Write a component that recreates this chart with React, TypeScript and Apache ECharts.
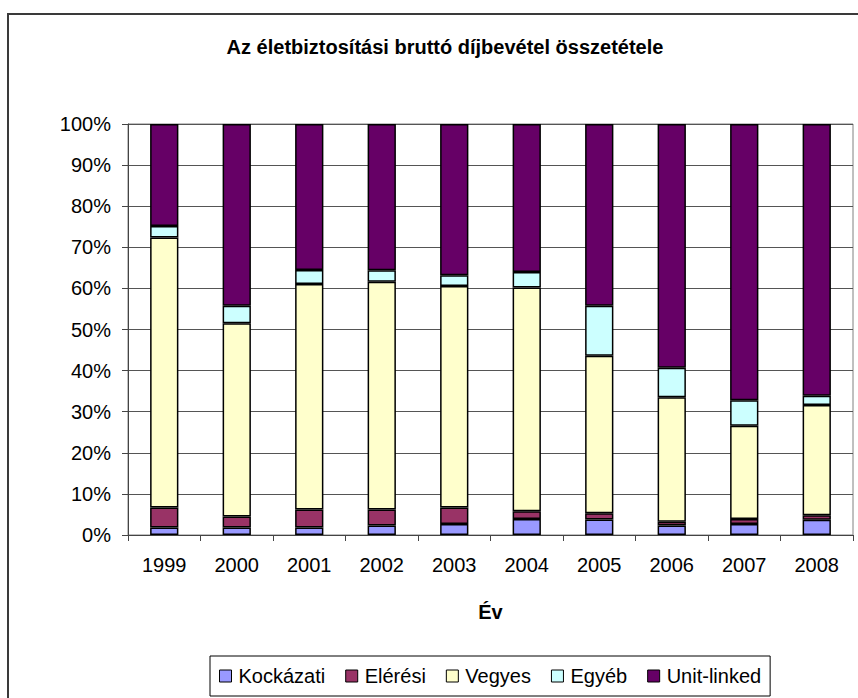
import React, { useEffect, useRef } from "react";
import * as echarts from "echarts";

// Years on the category axis
const years = ["1999", "2000", "2001", "2002", "2003", "2004", "2005", "2006", "2007", "2008"];

// Share of gross life-insurance premium income by product type (%)
const kockazati = [1.8, 1.8, 1.8, 2.3, 2.7, 3.9, 3.8, 2.3, 2.7, 3.7];
const eleresi = [4.9, 2.7, 4.4, 3.9, 4.0, 1.9, 1.5, 0.9, 1.2, 1.1];
const vegyes = [65.7, 47.0, 54.9, 55.4, 53.9, 54.4, 38.3, 30.3, 22.7, 26.8];
const egyeb = [2.8, 4.3, 3.4, 2.8, 2.6, 3.8, 12.2, 7.2, 6.2, 2.3];
const unitLinked = [24.8, 44.2, 35.5, 35.6, 36.8, 36.0, 44.2, 59.3, 67.2, 66.1];

const seriesNames = ["Kockázati", "Elérési", "Vegyes", "Egyéb", "Unit-linked"];
const seriesData = [kockazati, eleresi, vegyes, egyeb, unitLinked];
const seriesColors = ["#9999FF", "#993366", "#FFFFCC", "#CCFFFF", "#660066"];

const titleText = "Az életbiztosítási bruttó díjbevétel összetétele";
const xAxisName = "Év";

const FONT = "'Liberation Sans', Arial, sans-serif";

export default function App() {
  const ref = useRef<HTMLDivElement>(null);

  useEffect(() => {
    if (!ref.current) return;
    const chart = echarts.init(ref.current, undefined, { renderer: "svg" });

    chart.setOption({
      animation: false,
      backgroundColor: "#ffffff",
      textStyle: { fontFamily: FONT, color: "#000" },
      graphic: [
        {
          type: "rect",
          shape: { x: 8, y: 14, width: 900, height: 800 },
          style: { fill: "none", stroke: "#3a3a3a", lineWidth: 2 },
          silent: true,
        },
        {
          type: "text",
          x: 445,
          y: 47,
          style: {
            text: titleText,
            fontFamily: FONT,
            fontSize: 20,
            fontWeight: "bold",
            fill: "#000",
            align: "center",
            verticalAlign: "middle",
          },
        },
      ],
      legend: {
        data: seriesNames,
        left: 210,
        top: 656,
        orient: "horizontal",
        padding: [10, 9, 10, 9],
        itemGap: 20,
        itemWidth: 12,
        itemHeight: 12,
        icon: "rect",
        borderColor: "#000",
        borderWidth: 1,
        itemStyle: { borderColor: "#000", borderWidth: 1 },
        textStyle: { fontFamily: FONT, fontSize: 20, color: "#000", padding: [0, 0, 0, 2] },
      },
      grid: {
        left: 128,
        top: 124,
        width: 725,
        height: 411,
        show: true,
        borderColor: "#808080",
        borderWidth: 1,
        containLabel: false,
      },
      xAxis: {
        type: "category",
        data: years,
        name: xAxisName,
        nameLocation: "middle",
        nameGap: 67,
        nameTextStyle: { fontFamily: FONT, fontSize: 20, fontWeight: "bold", color: "#000", verticalAlign: "top" },
        axisLine: { show: true, lineStyle: { color: "#444", width: 1 } },
        axisTick: { show: true, alignWithLabel: false, length: 6, lineStyle: { color: "#444" } },
        axisLabel: { fontFamily: FONT, fontSize: 20, color: "#000", margin: 20 },
        splitLine: { show: false },
      },
      yAxis: {
        type: "value",
        min: 0,
        max: 100,
        interval: 10,
        axisLine: { show: true, lineStyle: { color: "#444", width: 1 } },
        axisTick: { show: true, length: 6, lineStyle: { color: "#444" } },
        axisLabel: { fontFamily: FONT, fontSize: 20, color: "#000", margin: 17, formatter: "{value}%" },
        splitLine: { show: true, lineStyle: { color: "#555", width: 1 } },
      },
      series: seriesNames.map((name, i) => ({
        name,
        type: "bar",
        stack: "total",
        barWidth: "39%",
        data: seriesData[i],
        itemStyle: { color: seriesColors[i], borderColor: "#000", borderWidth: 1.5 },
      })),
    });

    return () => chart.dispose();
  }, []);

  return (
    <div
      ref={ref}
      style={{ position: "fixed", left: 0, top: 0, width: 858, height: 698 }}
    />
  );
}
